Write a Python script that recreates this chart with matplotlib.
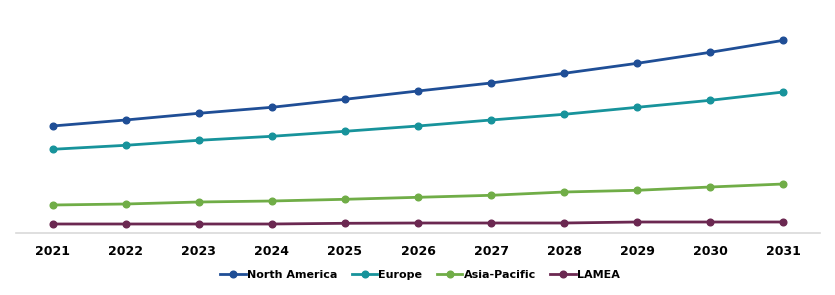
import numpy as np
import matplotlib.pyplot as plt

years = [2021, 2022, 2023, 2024, 2025, 2026, 2027, 2028, 2029, 2030, 2031]
north_america = [106.7, 112.7, 119.4, 125.4, 133.4, 141.7, 149.7, 159.4, 169.4, 180.4, 192.4]
europe = [83.4, 87.4, 92.4, 96.4, 101.4, 106.7, 112.7, 118.4, 125.4, 132.4, 140.7]
asia_pacific = [27.7, 28.7, 30.7, 31.7, 33.4, 35.4, 37.4, 40.7, 42.4, 45.7, 48.7]
lamea = [8.7, 8.7, 8.7, 8.7, 9.4, 9.7, 9.7, 9.7, 10.7, 10.7, 10.7]

series = [
    ('North America', north_america, '#1f4e96'),
    ('Europe', europe, '#17939b'),
    ('Asia-Pacific', asia_pacific, '#70ad47'),
    ('LAMEA', lamea, '#6b2851'),
]

fig = plt.figure(figsize=(8.35, 2.95), dpi=100)
ax = fig.add_axes([16 / 835, 1 - 232.7 / 295, (820 - 16) / 835, 232.7 / 295])

for name, vals, col in series:
    ax.plot(years, vals, color=col, lw=2.0, marker='o', ms=4.8, label=name)

ax.set_xlim(2020.5, 2031.5)
ax.set_ylim(0, 232.7)
ax.set_yticks([])
ax.set_xticks(years)
ax.set_xticklabels([str(y) for y in years], fontsize=9, fontweight='bold')
ax.tick_params(axis='x', length=0, pad=9)
for s in ['top', 'left', 'right']:
    ax.spines[s].set_visible(False)
ax.spines['bottom'].set_color('#d9d9d9')
ax.spines['bottom'].set_linewidth(1.2)

fig.legend(loc='center', bbox_to_anchor=(420 / 835, 1 - 275 / 295), ncol=4,
           frameon=False, prop={'weight': 'bold', 'size': 8},
           handlelength=2.3, handletextpad=0.1, columnspacing=1.3)

fig.savefig('out.png', dpi=100)
